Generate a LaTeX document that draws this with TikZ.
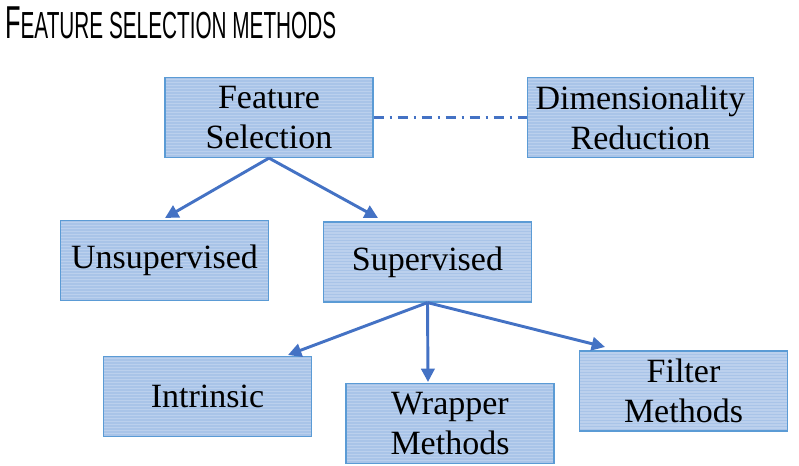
\documentclass[tikz,border=0pt]{standalone}
\usepackage{fontspec}
\setmainfont{Liberation Serif}
\newfontfamily\titlefont{Liberation Sans}
\usetikzlibrary{arrows.meta}
\definecolor{boxfill}{HTML}{A9C4E8}
\definecolor{boxline}{HTML}{5B9BD5}
\definecolor{linkblue}{HTML}{4472C4}

\begin{document}
\begin{tikzpicture}[x=0.75pt,y=-0.75pt,
  box/.style={draw=boxline,fill=boxfill,line width=0.9pt,minimum width=156pt,minimum height=60pt,inner sep=0pt,align=center,font=\fontsize{25.5}{30}\selectfont,
    path picture={\foreach \k in {2,5,...,80}
      \draw[white,opacity=0.22,line width=0.9pt] ([yshift=-\k*0.75pt]path picture bounding box.north west) -- ([yshift=-\k*0.75pt]path picture bounding box.north east);}},
  link/.style={draw=linkblue,line width=2.2pt,-{Triangle[length=10pt,width=10pt]}},
  dashdot/.style={draw=linkblue,line width=1.6pt,dash pattern=on 8pt off 4pt on 2pt off 4pt}]
  \useasboundingbox (0,0) rectangle (799,466);
  % -=-=-=-=- TITLE -=-=-=-=-
  \node[anchor=base west,inner sep=0pt,xscale=0.55] (title) at (5,39) {\titlefont\fontsize{34.6}{40}\selectfont F\fontsize{28.3}{34}\selectfont EATURE SELECTION METHODS};

  % -=-=-=-=- BOXES -=-=-=-=-
  \node[box] (fs) at (269,117.5) {Feature\\Selection};
  \node[box,minimum width=170pt] (dr) at (640.5,117.5) {Dimensionality\\Reduction};
  \node[box] (unsup) at (164.5,260.5) {Unsupervised};
  \node[box] (sup) at (427.5,262) {Supervised};
  \node[box] (intr) at (207.5,396.5) {Intrinsic};
  \node[box] (wrap) at (450,423.5) {Wrapper\\Methods};
  \node[box] (filt) at (683.5,391) {Filter\\Methods};

  % -=-=-=-=- ARROW ENDS -=-=-=-=-
  \coordinate (unsup in) at (165,218);
  \coordinate (sup in) at (378,218);
  \coordinate (intr in) at (288,355);
  \coordinate (wrap in) at (428,382);
  \coordinate (filt in) at (605,347);

  % -=-=-=-=- LINKS -=-=-=-=-
  \draw[dashdot] (fs.east) -- (dr.west);
  \draw[link] (fs.south) -- (unsup in);
  \draw[link] (fs.south) -- (sup in);
  \draw[link] (sup.south) -- (intr in);
  \draw[link] (sup.south) -- (wrap in);
  \draw[link] (sup.south) -- (filt in);
\end{tikzpicture}
\end{document}
